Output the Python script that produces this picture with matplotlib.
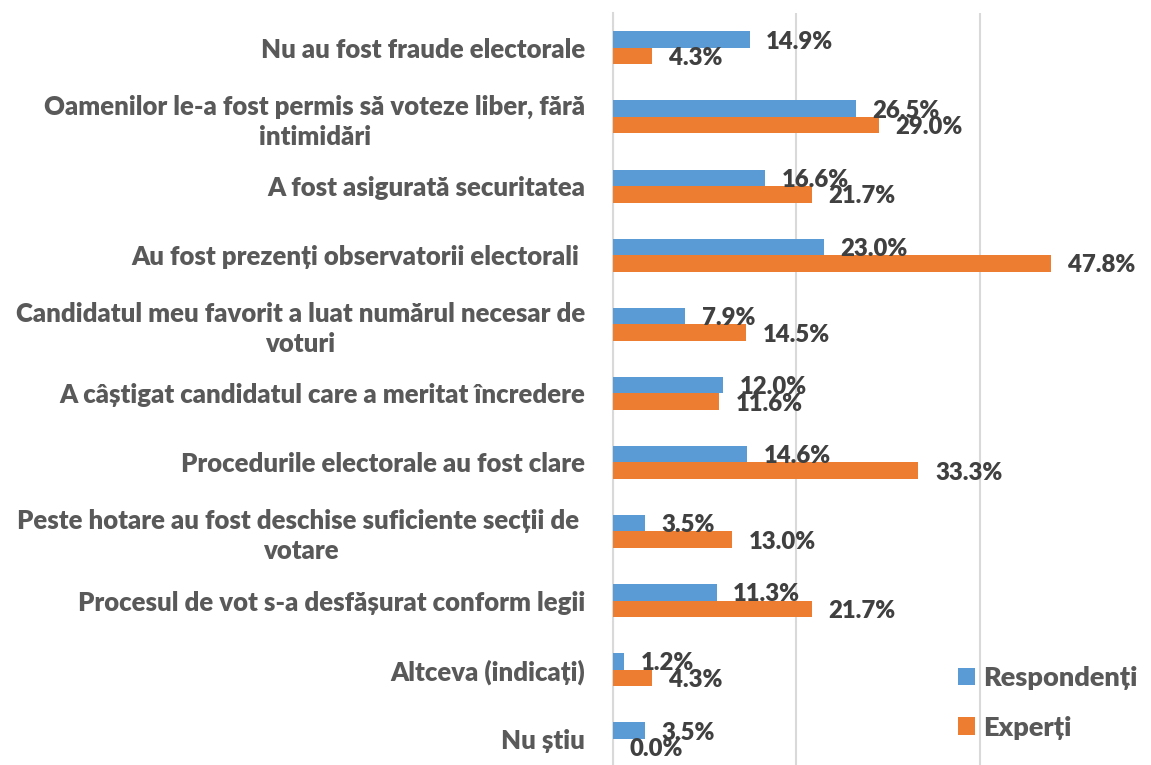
import matplotlib
matplotlib.use("Agg")
import matplotlib.pyplot as plt
from matplotlib.patches import Patch
import numpy as np

# Survey answers, top to bottom as in the chart
categories = [
    "Nu au fost fraude electorale",
    "Oamenilor le-a fost permis să voteze liber, fără\nintimidări",
    "A fost asigurată securitatea",
    "Au fost prezenți observatorii electorali ",
    "Candidatul meu favorit a luat numărul necesar de\nvoturi",
    "A câștigat candidatul care a meritat încredere",
    "Procedurile electorale au fost clare",
    "Peste hotare au fost deschise suficiente secții de \nvotare",
    "Procesul de vot s-a desfășurat conform legii",
    "Altceva (indicați)",
    "Nu știu",
]
respondenti = [14.9, 26.5, 16.6, 23.0, 7.9, 12.0, 14.6, 3.5, 11.3, 1.2, 3.5]
experti = [4.3, 29.0, 21.7, 47.8, 14.5, 11.6, 33.3, 13.0, 21.7, 4.3, 0.0]
series_names = ["Respondenți", "Experți"]

BLUE = "#5B9BD5"
ORANGE = "#ED7D31"
GRID = "#D9D9D9"
LABEL_COL = "#595959"
VALUE_COL = "#404040"
WEIGHT = "heavy"

plt.rcParams['font.family'] = ['Lato', 'DejaVu Sans']

W, H = 1151, 765
fig = plt.figure(figsize=(W / 100, H / 100), dpi=100)
ax_left = 613 / W
ax_top = 13.3 / H
ax = fig.add_axes([ax_left, 0, 1 - ax_left, 1 - ax_top])

y = np.arange(len(categories))
bh = 0.239
b1 = ax.barh(y - bh / 2, respondenti, height=bh, color=BLUE, zorder=3)
b2 = ax.barh(y + bh / 2, experti, height=bh, color=ORANGE, zorder=3)

for bars, vals in ((b1, respondenti), (b2, experti)):
    for rect, v in zip(bars, vals):
        ax.annotate(f"{v:.1f}%", (v, rect.get_y() + rect.get_height() / 2),
                    xytext=(12, -1.5), textcoords="offset points",
                    ha="left", va="center", fontsize=17.2,
                    fontweight=WEIGHT, color=VALUE_COL, zorder=4)

ax.set_xlim(0, (W - 613) / 9.17)
ax.set_ylim(10.38, -0.5)
ax.set_xticks([0, 20, 40])
ax.xaxis.grid(True, color=GRID, linewidth=1.5, zorder=0)
ax.tick_params(axis="x", length=0, labelbottom=False)
ax.tick_params(axis="y", length=0, pad=20, labelsize=18.5, labelcolor=LABEL_COL)
ax.set_yticks(y)
ax.set_yticklabels(categories)
for t in ax.get_yticklabels():
    t.set_multialignment("center")
    t.set_fontweight(WEIGHT)
    t.set_linespacing(1.3)

for side in ("top", "right", "bottom"):
    ax.spines[side].set_visible(False)
ax.spines["left"].set_color(GRID)
ax.spines["left"].set_linewidth(1.5)

handles = [Patch(facecolor=BLUE), Patch(facecolor=ORANGE)]
fig.legend(handles, series_names, loc="upper left",
           bbox_to_anchor=(958 / W, 1 - 666 / H), frameon=False,
           handlelength=0.62, handleheight=0.62,
           handletextpad=0.3, labelspacing=0.95, borderpad=0,
           borderaxespad=0, labelcolor=LABEL_COL,
           prop={"weight": WEIGHT, "size": 19.5})

fig.savefig("out.png", dpi=100)
